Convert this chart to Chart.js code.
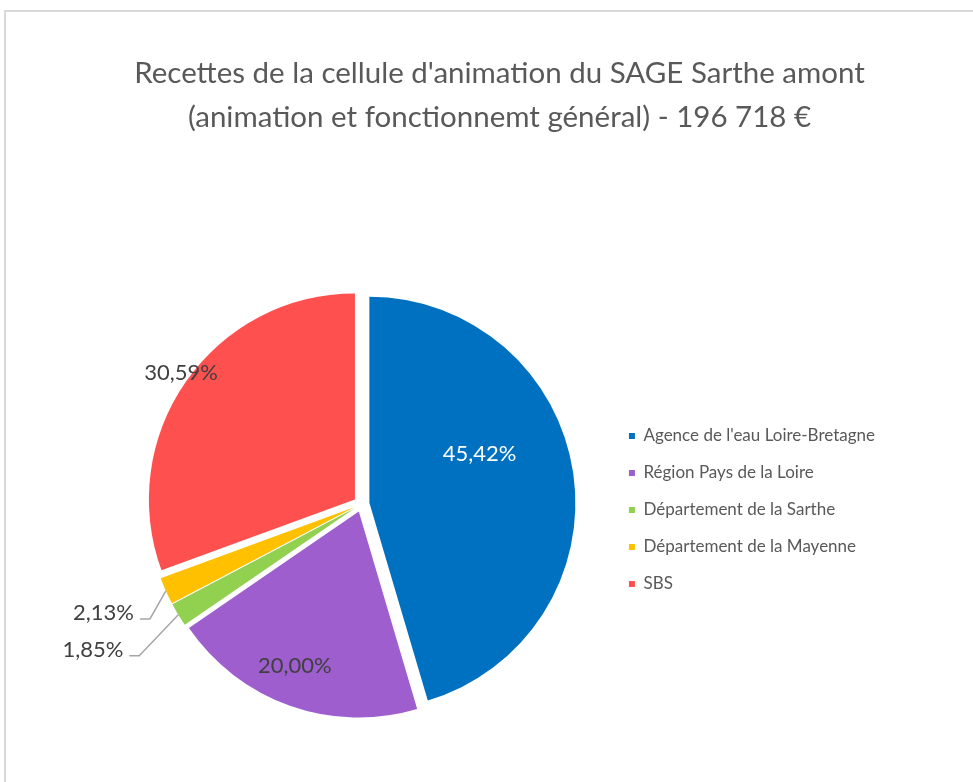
<!DOCTYPE html>
<html>
<head>
<meta charset="utf-8">
<script src="https://cdn.jsdelivr.net/npm/chart.js@4.4.1/dist/chart.umd.min.js"></script>
<style>
  html, body { margin: 0; padding: 0; background: #fff; }
  #wrap { position: relative; width: 973px; height: 782px; overflow: hidden; }
  #cadre { position: absolute; left: 4px; top: 10px; width: 1200px; height: 900px;
           border-left: 2px solid #d9d9d9; border-top: 2px solid #d9d9d9; }
  canvas { position: absolute; left: 0; top: 0; }
</style>
</head>
<body>
<div id="wrap">
  <div id="cadre"></div>
  <canvas id="grafico" width="973" height="782"></canvas>
</div>
<script>
const titre = [
  "Recettes de la cellule d'animation du SAGE Sarthe amont",
  "(animation et fonctionnemt général) - 196 718 €"
];
const financeurs = [
  "Agence de l'eau Loire-Bretagne",
  'Région Pays de la Loire',
  'Département de la Sarthe',
  'Département de la Mayenne',
  'SBS'
];
const parts = [45.42, 20.00, 1.85, 2.13, 30.59];
const couleurs = ['#0070c0', '#9e5ece', '#92d050', '#ffc000', '#ff5050'];

// placement des étiquettes (k = fraction du rayon, da = décalage d'angle en degrés)
const etiquettes = [
  { k: 0.585, da: -15.75, color: '#ffffff' },
  { k: 0.81, da: 3, color: '#404040' },
  { leader: [-39, 41], color: '#404040' },
  { leader: [-16, 28], color: '#404040' },
  { k: 1.045, da: 1.2, color: '#404040' }
];

const ecart = 8;
const police = 'Lato';

// parts détachées : chaque arc est décalé le long de sa bissectrice
const eclate = {
  id: 'eclate',
  beforeDatasetDraw(chart, args) {
    const ctx = chart.ctx;
    args.meta.data.forEach(arc => {
      const mid = (arc.startAngle + arc.endAngle) / 2;
      ctx.save();
      ctx.translate(Math.cos(mid) * ecart, Math.sin(mid) * ecart);
      arc.draw(ctx);
      ctx.restore();
    });
    return false;
  }
};

const pourcentages = {
  id: 'pourcentages',
  afterDatasetsDraw(chart) {
    const ctx = chart.ctx;
    const meta = chart.getDatasetMeta(0);
    meta.data.forEach((arc, i) => {
      const p = etiquettes[i];
      const mid = (arc.startAngle + arc.endAngle) / 2;
      const cx = arc.x + Math.cos(mid) * ecart;
      const cy = arc.y + Math.sin(mid) * ecart;
      const r = arc.outerRadius;
      const texte = parts[i].toFixed(2).replace('.', ',') + '%';
      ctx.save();
      ctx.font = '22px ' + police;
      ctx.fillStyle = p.color;
      ctx.textBaseline = 'middle';
      if (p.leader) {
        const ex = cx + Math.cos(mid) * r;
        const ey = cy + Math.sin(mid) * r;
        const bx = ex + p.leader[0];
        const by = ey + p.leader[1];
        ctx.strokeStyle = '#a6a6a6';
        ctx.lineWidth = 1.5;
        ctx.beginPath();
        ctx.moveTo(ex, ey);
        ctx.lineTo(bx, by);
        ctx.lineTo(bx - 10, by);
        ctx.stroke();
        ctx.textAlign = 'right';
        ctx.fillText(texte, bx - 16, by - 6);
      } else {
        const a = mid + p.da * Math.PI / 180;
        ctx.textAlign = 'center';
        ctx.fillText(texte, cx + Math.cos(a) * r * p.k, cy + Math.sin(a) * r * p.k);
      }
      ctx.restore();
    });
  }
};

new Chart(document.getElementById('grafico'), {
  type: 'pie',
  data: {
    labels: financeurs,
    datasets: [{
      data: parts,
      backgroundColor: couleurs,
      borderWidth: 0
    }]
  },
  options: {
    responsive: false,
    animation: false,
    radius: 206,
    layout: { padding: { left: 114, right: 88, top: 0, bottom: 10 } },
    plugins: {
      title: {
        display: true,
        text: titre,
        color: '#595959',
        font: { family: police, size: 29.5, weight: 'normal', lineHeight: 44 / 29.5 },
        padding: { top: 51, bottom: 97 }
      },
      legend: {
        position: 'right',
        fullSize: false,
        align: 'center',
        title: { display: true, text: '', padding: 0, font: { size: 12, lineHeight: 1 } },
        labels: {
          boxWidth: 6,
          boxHeight: 6,
          padding: 20,
          color: '#595959',
          font: { family: police, size: 17 }
        }
      },
      tooltip: { enabled: false }
    }
  },
  plugins: [eclate, pourcentages]
});
</script>
</body>
</html>
